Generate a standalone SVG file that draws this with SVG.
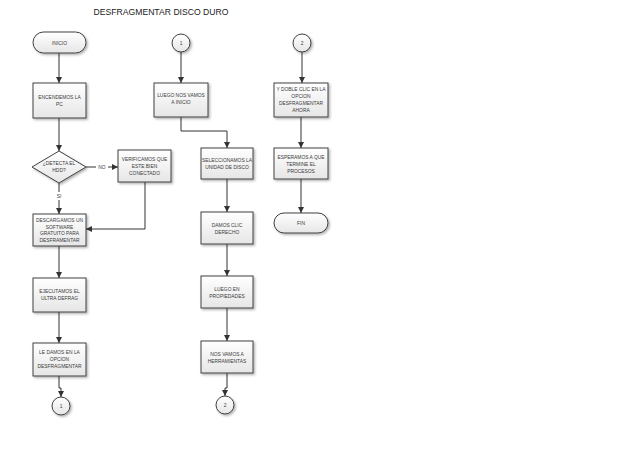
<svg xmlns="http://www.w3.org/2000/svg" width="638" height="452" viewBox="0 0 638 452">
<defs>
<linearGradient id="g" x1="0" y1="0" x2="0" y2="1"><stop offset="0" stop-color="#ffffff"/><stop offset="1" stop-color="#e6e6e6"/></linearGradient>
<filter id="sh" x="-20%" y="-20%" width="150%" height="150%"><feDropShadow dx="1.5" dy="1.5" stdDeviation="0.8" flood-color="#000" flood-opacity="0.3"/></filter>
<marker id="ah" viewBox="0 0 10 10" refX="10" refY="5" markerWidth="6" markerHeight="6" orient="auto" markerUnits="userSpaceOnUse"><path d="M0,0 L10,5 L0,10 z" fill="#333"/></marker>
<style>
.b{fill:url(#g);stroke:#404040;stroke-width:1;filter:url(#sh)}
.t{font-family:"Liberation Sans",Arial,sans-serif;font-size:4.9px;fill:#3a3a3a;text-anchor:middle}
.c{fill:none;stroke:#333;stroke-width:1}
.ti{font-family:"Liberation Sans",Arial,sans-serif;font-size:9.5px;fill:#222;text-anchor:middle}
</style>
</defs>
<rect width="638" height="452" fill="#fff"/>
<text class="ti" x="161" y="15" textLength="135" lengthAdjust="spacingAndGlyphs">DESFRAGMENTAR DISCO DURO</text>

<g id="connectors">
<path class="c" d="M59,53 V83" marker-end="url(#ah)"/>
<path class="c" d="M59,118 V151" marker-end="url(#ah)"/>
<path class="c" d="M86,167 H118" marker-end="url(#ah)"/>
<path class="c" d="M59,183 V214" marker-end="url(#ah)"/>
<path class="c" d="M145,182 V229 H86" marker-end="url(#ah)"/>
<path class="c" d="M59,246 V278" marker-end="url(#ah)"/>
<path class="c" d="M59,312 V343" marker-end="url(#ah)"/>
<path class="c" d="M59,376 V388 H61 V397" marker-end="url(#ah)"/>
<path class="c" d="M181,52 V83" marker-end="url(#ah)"/>
<path class="c" d="M181,117 V131 H227 V148" marker-end="url(#ah)"/>
<path class="c" d="M227,179 V212" marker-end="url(#ah)"/>
<path class="c" d="M227,244 V276" marker-end="url(#ah)"/>
<path class="c" d="M227,308 V341" marker-end="url(#ah)"/>
<path class="c" d="M227,373 V388 H225 V396" marker-end="url(#ah)"/>
<path class="c" d="M302,52 V83" marker-end="url(#ah)"/>
<path class="c" d="M301,117 V148" marker-end="url(#ah)"/>
<path class="c" d="M301,179 V213" marker-end="url(#ah)"/>
<rect x="96" y="163" width="12" height="8" fill="#fff"/>
<text class="t" x="102" y="169">NO</text>
<rect x="54" y="192" width="10" height="8" fill="#fff"/>
<text class="t" x="59" y="198">SI</text>
</g>

<g id="inicio"><rect class="b" x="33" y="32" width="53" height="21" rx="10.5"/><text class="t" x="59.5" y="44.5">INICIO</text></g>
<g id="c1top"><circle class="b" cx="181" cy="43" r="9"/><text class="t" x="181" y="45">1</text></g>
<g id="c2top"><circle class="b" cx="302" cy="43" r="9"/><text class="t" x="302" y="45">2</text></g>

<g id="encendemos"><rect class="b" x="33" y="83" width="53" height="35"/><text class="t" x="59.5" y="99">ENCENDEMOS LA</text><text class="t" x="59.5" y="106">PC</text></g>
<g id="detecta"><path class="b" d="M59,151 L86,167 L59,183 L32,167 Z"/><text class="t" x="59" y="165">¿DETECTA EL</text><text class="t" x="59" y="172">HDD?</text></g>
<g id="verificamos"><rect class="b" x="118" y="150" width="53" height="32"/><text class="t" x="144.5" y="161">VERIFICAMOS QUE</text><text class="t" x="144.5" y="168">ESTE BIEN</text><text class="t" x="144.5" y="175">CONECTADO</text></g>
<g id="descargamos"><rect class="b" x="33" y="214" width="53" height="32"/><text class="t" x="59.5" y="222">DESCARGAMOS UN</text><text class="t" x="59.5" y="228.5">SOFTWARE</text><text class="t" x="59.5" y="235">GRATUITO PARA</text><text class="t" x="59.5" y="241.5">DESFRAMENTAR</text></g>
<g id="ejecutamos"><rect class="b" x="33" y="278" width="53" height="34"/><text class="t" x="59.5" y="293">EJECUTAMOS EL</text><text class="t" x="59.5" y="300">ULTRA DEFRAG</text></g>
<g id="ledamos"><rect class="b" x="33" y="343" width="53" height="33"/><text class="t" x="59.5" y="353.5">LE DAMOS EN LA</text><text class="t" x="59.5" y="360.5">OPCION</text><text class="t" x="59.5" y="367.5">DESFRAGMENTAR</text></g>
<g id="c1bot"><circle class="b" cx="61" cy="406" r="9"/><text class="t" x="61" y="408">1</text></g>

<g id="luego"><rect class="b" x="154" y="83" width="54" height="34"/><text class="t" x="181" y="97">LUEGO NOS VAMOS</text><text class="t" x="181" y="104">A INICIO</text></g>
<g id="seleccionamos"><rect class="b" x="201" y="148" width="52" height="31"/><text class="t" x="227" y="162">SELECCIONAMOS LA</text><text class="t" x="227" y="169">UNIDAD DE DISCO</text></g>
<g id="damos"><rect class="b" x="201" y="212" width="52" height="32"/><text class="t" x="227" y="227">DAMOS CLIC</text><text class="t" x="227" y="234">DERECHO</text></g>
<g id="propiedades"><rect class="b" x="201" y="276" width="52" height="32"/><text class="t" x="227" y="291">LUEGO EN</text><text class="t" x="227" y="298">PROPIEDADES</text></g>
<g id="herramientas"><rect class="b" x="201" y="341" width="52" height="32"/><text class="t" x="227" y="356">NOS VAMOS A</text><text class="t" x="227" y="363">HERRAMIENTAS</text></g>
<g id="c2bot"><circle class="b" cx="225" cy="405" r="9"/><text class="t" x="225" y="407">2</text></g>

<g id="dobleclic"><rect class="b" x="274" y="83" width="54" height="34"/><text class="t" x="301" y="91">Y DOBLE CLIC EN LA</text><text class="t" x="301" y="98">OPCION</text><text class="t" x="301" y="105">DESFRAGMENTAR</text><text class="t" x="301" y="112">AHORA</text></g>
<g id="esperamos"><rect class="b" x="274" y="148" width="54" height="31"/><text class="t" x="301" y="159">ESPERAMOS A QUE</text><text class="t" x="301" y="166">TERMINE EL</text><text class="t" x="301" y="173">PROCESOS</text></g>
<g id="fin"><rect class="b" x="274" y="213" width="54" height="20" rx="10"/><text class="t" x="301" y="225">FIN</text></g>
</svg>
